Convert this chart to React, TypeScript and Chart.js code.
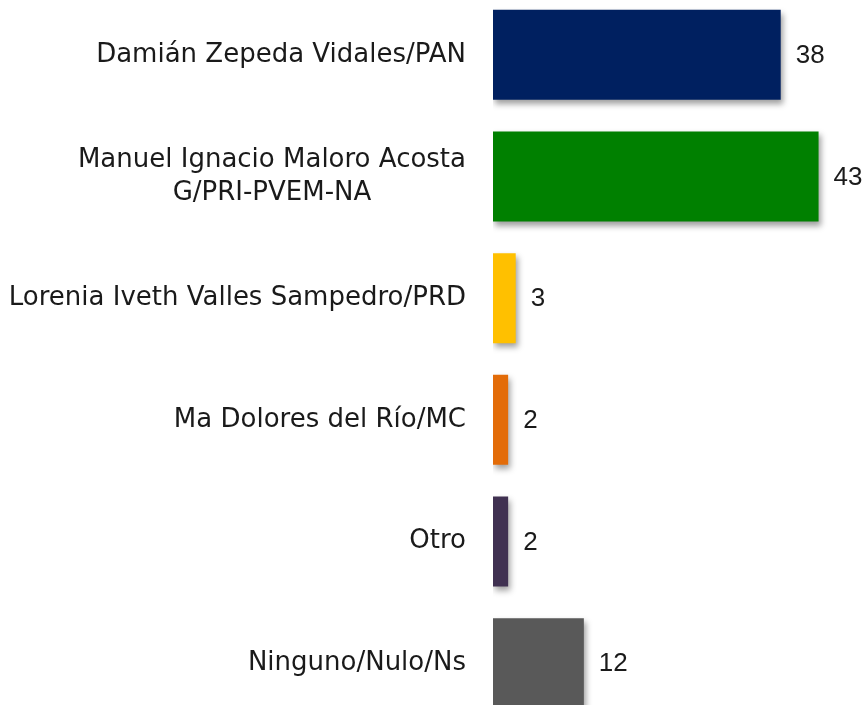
import React, { useEffect, useRef } from "react";
import { Chart, registerables } from "chart.js";

Chart.register(...registerables);

const categories: string[][] = [
  ["Damián Zepeda Vidales/PAN"],
  ["Manuel Ignacio Maloro Acosta", "G/PRI-PVEM-NA"],
  ["Lorenia Iveth Valles Sampedro/PRD"],
  ["Ma Dolores del Río/MC"],
  ["Otro"],
  ["Ninguno/Nulo/Ns"],
];
const values: number[] = [38, 43, 3, 2, 2, 12];
const valueLabels: string[] = ["38", "43", "3", "2", "2", "12"];
const barColors: string[] = ["#002060", "#008000", "#FFC000", "#E36C09", "#403151", "#595959"];

const LABEL_FONT = "26px 'DejaVu Sans', sans-serif";
const VALUE_FONT = "26px 'Liberation Sans', sans-serif";
const TEXT_COLOR = "#1a1a1a";

export default function App() {
  const ref = useRef<HTMLCanvasElement | null>(null);

  useEffect(() => {
    document.body.style.margin = "0";
    const canvas = ref.current;
    if (!canvas) return;

    const shadowPlugin = {
      id: "barShadow",
      beforeDatasetsDraw(chart: any) {
        const ctx = chart.ctx;
        ctx.save();
        ctx.shadowColor = "rgba(0,0,0,0.38)";
        ctx.shadowBlur = 6;
        ctx.shadowOffsetX = 2;
        ctx.shadowOffsetY = 4;
      },
      afterDatasetsDraw(chart: any) {
        chart.ctx.restore();
      },
    };

    const labelPlugin = {
      id: "labels",
      afterDraw(chart: any) {
        const ctx = chart.ctx;
        const yScale = chart.scales.y;
        ctx.save();
        ctx.font = LABEL_FONT;
        ctx.fillStyle = TEXT_COLOR;
        ctx.textBaseline = "middle";
        const right = chart.chartArea.left - 27;
        const lh = 33;
        categories.forEach((lines, i) => {
          const y = yScale.getPixelForValue(i);
          const maxW = Math.max(...lines.map((l) => ctx.measureText(l).width));
          const cx = right - maxW / 2;
          ctx.textAlign = "center";
          const start = y - ((lines.length - 1) * lh) / 2;
          lines.forEach((l, j) => ctx.fillText(l, cx, start + j * lh));
        });
        const meta = chart.getDatasetMeta(0);
        ctx.font = VALUE_FONT;
        ctx.textAlign = "left";
        meta.data.forEach((el: any, i: number) => {
          ctx.fillText(valueLabels[i], el.x + 15, el.y + 1);
        });
        ctx.restore();
      },
    };

    const chart = new Chart(canvas, {
      type: "bar",
      data: {
        labels: categories.map((c) => c.join(" ")),
        datasets: [
          {
            data: values,
            backgroundColor: barColors,
            borderWidth: 0,
            barPercentage: 0.74,
            categoryPercentage: 1,
          },
        ],
      },
      options: {
        indexAxis: "y",
        responsive: false,
        animation: false,
        layout: { padding: 0 },
        plugins: { legend: { display: false }, tooltip: { enabled: false } },
        scales: {
          x: {
            min: 0,
            max: 49,
            display: false,
          },
          y: {
            grid: { display: false },
            border: { display: false },
            ticks: { display: false },
            afterFit(scale: any) {
              scale.width = 493;
            },
          },
        },
      },
      plugins: [shadowPlugin, labelPlugin],
    });
    return () => chart.destroy();
  }, []);

  return (
    <div style={{ marginTop: -6, height: 730, overflow: "hidden" }}>
      <canvas ref={ref} width={864} height={730} style={{ display: "block" }} />
    </div>
  );
}
